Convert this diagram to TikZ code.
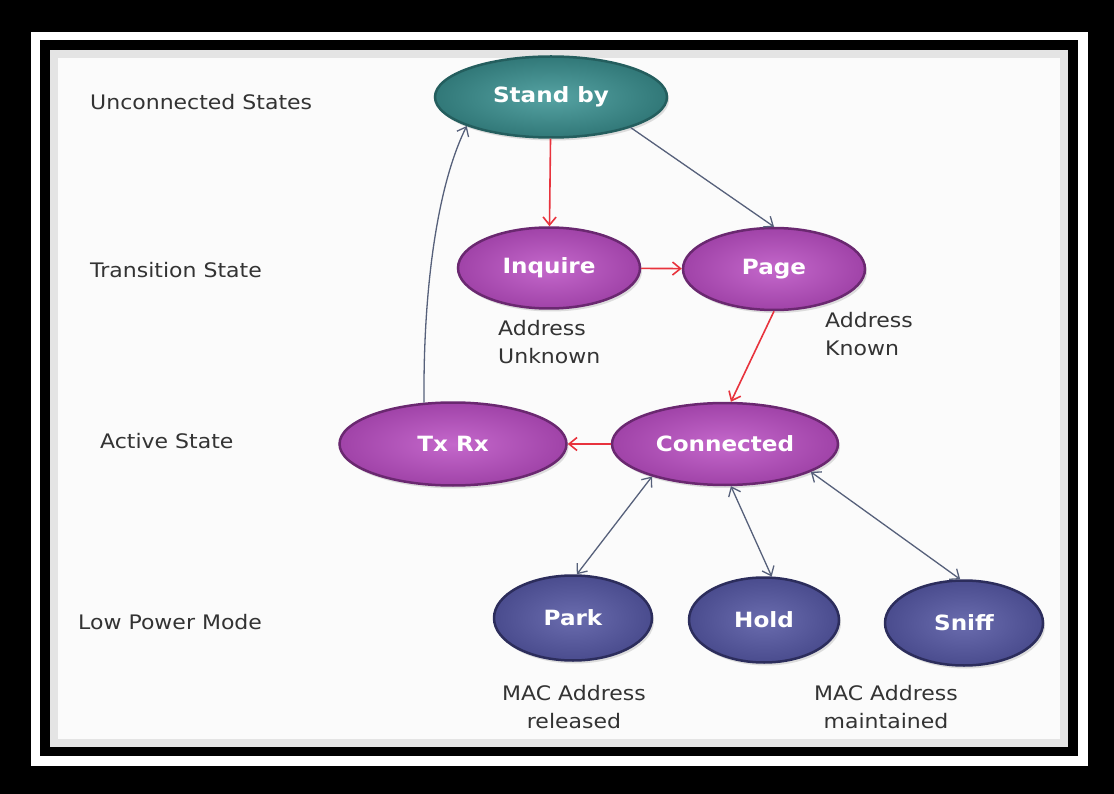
\documentclass[tikz,border=0pt]{standalone}
\usepackage{fontspec}
\setmainfont{DejaVu Sans}[FakeStretch=1.1]
\usetikzlibrary{arrows.meta,shapes.geometric,shadows}

\definecolor{frameink}{HTML}{000000}
\definecolor{edgegray}{HTML}{56607A}
\definecolor{edgered}{HTML}{E8333D}
\definecolor{tealin}{HTML}{56A3A3}
\definecolor{tealout}{HTML}{317878}
\definecolor{tealrim}{HTML}{245E5E}
\definecolor{plumin}{HTML}{C468CB}
\definecolor{plumout}{HTML}{A043A8}
\definecolor{plumrim}{HTML}{6A2870}
\definecolor{slatein}{HTML}{6A6CAE}
\definecolor{slateout}{HTML}{4A4C8E}
\definecolor{slaterim}{HTML}{2C2D5C}

\begin{document}
\begin{tikzpicture}[x=1pt,y=-1pt,font=\fontsize{20}{28}\selectfont,>={Straight Barb[length=8pt,width=13pt]},
  state/.style={ellipse,draw,line width=2.5pt,inner sep=0pt,text=white,font=\fontsize{21}{28}\selectfont\bfseries,
    drop shadow={shadow xshift=2pt,shadow yshift=-3pt,opacity=.25}},
  standby/.style={state,draw=tealrim,inner color=tealin,outer color=tealout},
  linked/.style={state,draw=plumrim,inner color=plumin,outer color=plumout},
  lowpower/.style={state,draw=slaterim,inner color=slatein,outer color=slateout},
  lbl/.style={text=black!80,align=left,inner sep=0pt},
  plain/.style={draw=edgegray,line width=1.3pt},
  hot/.style={draw=edgered,line width=1.6pt}]

% frame
\fill[frameink] (0,0) rectangle (1114,794);
\fill[white] (31,32) rectangle (1088,766);
\fill[frameink] (40,40) rectangle (1078,756);
\fill[gray!3] (50,50) rectangle (1068,747);
\foreach \i in {0,...,7}
  \draw[black,opacity=.09,line width=1.3pt] (50.5+\i,50.5+\i) rectangle (1067.5-\i,746.5-\i);
\useasboundingbox (0,0) rectangle (1114,794);

% row titles
\node[lbl,anchor=west] (t1) at (90,102) {Unconnected States};
\node[lbl,anchor=west] (t2) at (90,270) {Transition State};
\node[lbl,anchor=west] (t3) at (100,441) {Active State};
\node[lbl,anchor=west] (t4) at (78,622) {Low Power Mode};

% states
\node[standby,minimum width=232pt,minimum height=81pt] (standby) at (551,97) {Stand by};
\node[linked,minimum width=182pt,minimum height=81pt] (inquire) at (549,268) {Inquire};
\node[linked,minimum width=182pt,minimum height=82pt] (page) at (774,269) {Page};
\node[linked,minimum width=227pt,minimum height=83pt] (txrx) at (453,444) {Tx Rx};
\node[linked,minimum width=226pt,minimum height=82pt] (connected) at (725,444) {Connected};
\node[lowpower,minimum width=158pt,minimum height=85pt] (park) at (573,618) {Park};
\node[lowpower,minimum width=150pt,minimum height=85pt] (hold) at (764,620) {Hold};
\node[lowpower,minimum width=158pt,minimum height=85pt] (sniff) at (964,623) {Sniff};

% notes
\node[lbl,anchor=west] (unknown) at (498,342) {Address\\Unknown};
\node[lbl,anchor=west] (known) at (825,334) {Address\\Known};
\node[lbl,align=center] (released) at (574,707) {MAC Address\\released};
\node[lbl,align=center] (kept) at (886,707) {MAC Address\\maintained};

% transitions
\draw[hot,->] (standby) -- (inquire);
\draw[plain,->] (standby.-21) -- (page.north);
\draw[hot,->] (inquire) -- (page);
\draw[hot,->] (page.south) -- (connected.82);
\draw[hot,->] (connected) -- (txrx);
\draw[plain,->] (txrx.125) .. controls (423,300) and (435,190) .. (standby.199);
\draw[plain,<->] (connected.204) -- (park.85);
\draw[plain,<->] (connected.-82) -- (hold.80);
\draw[plain,<->] (connected.-18) -- (sniff.95);
\end{tikzpicture}
\end{document}
